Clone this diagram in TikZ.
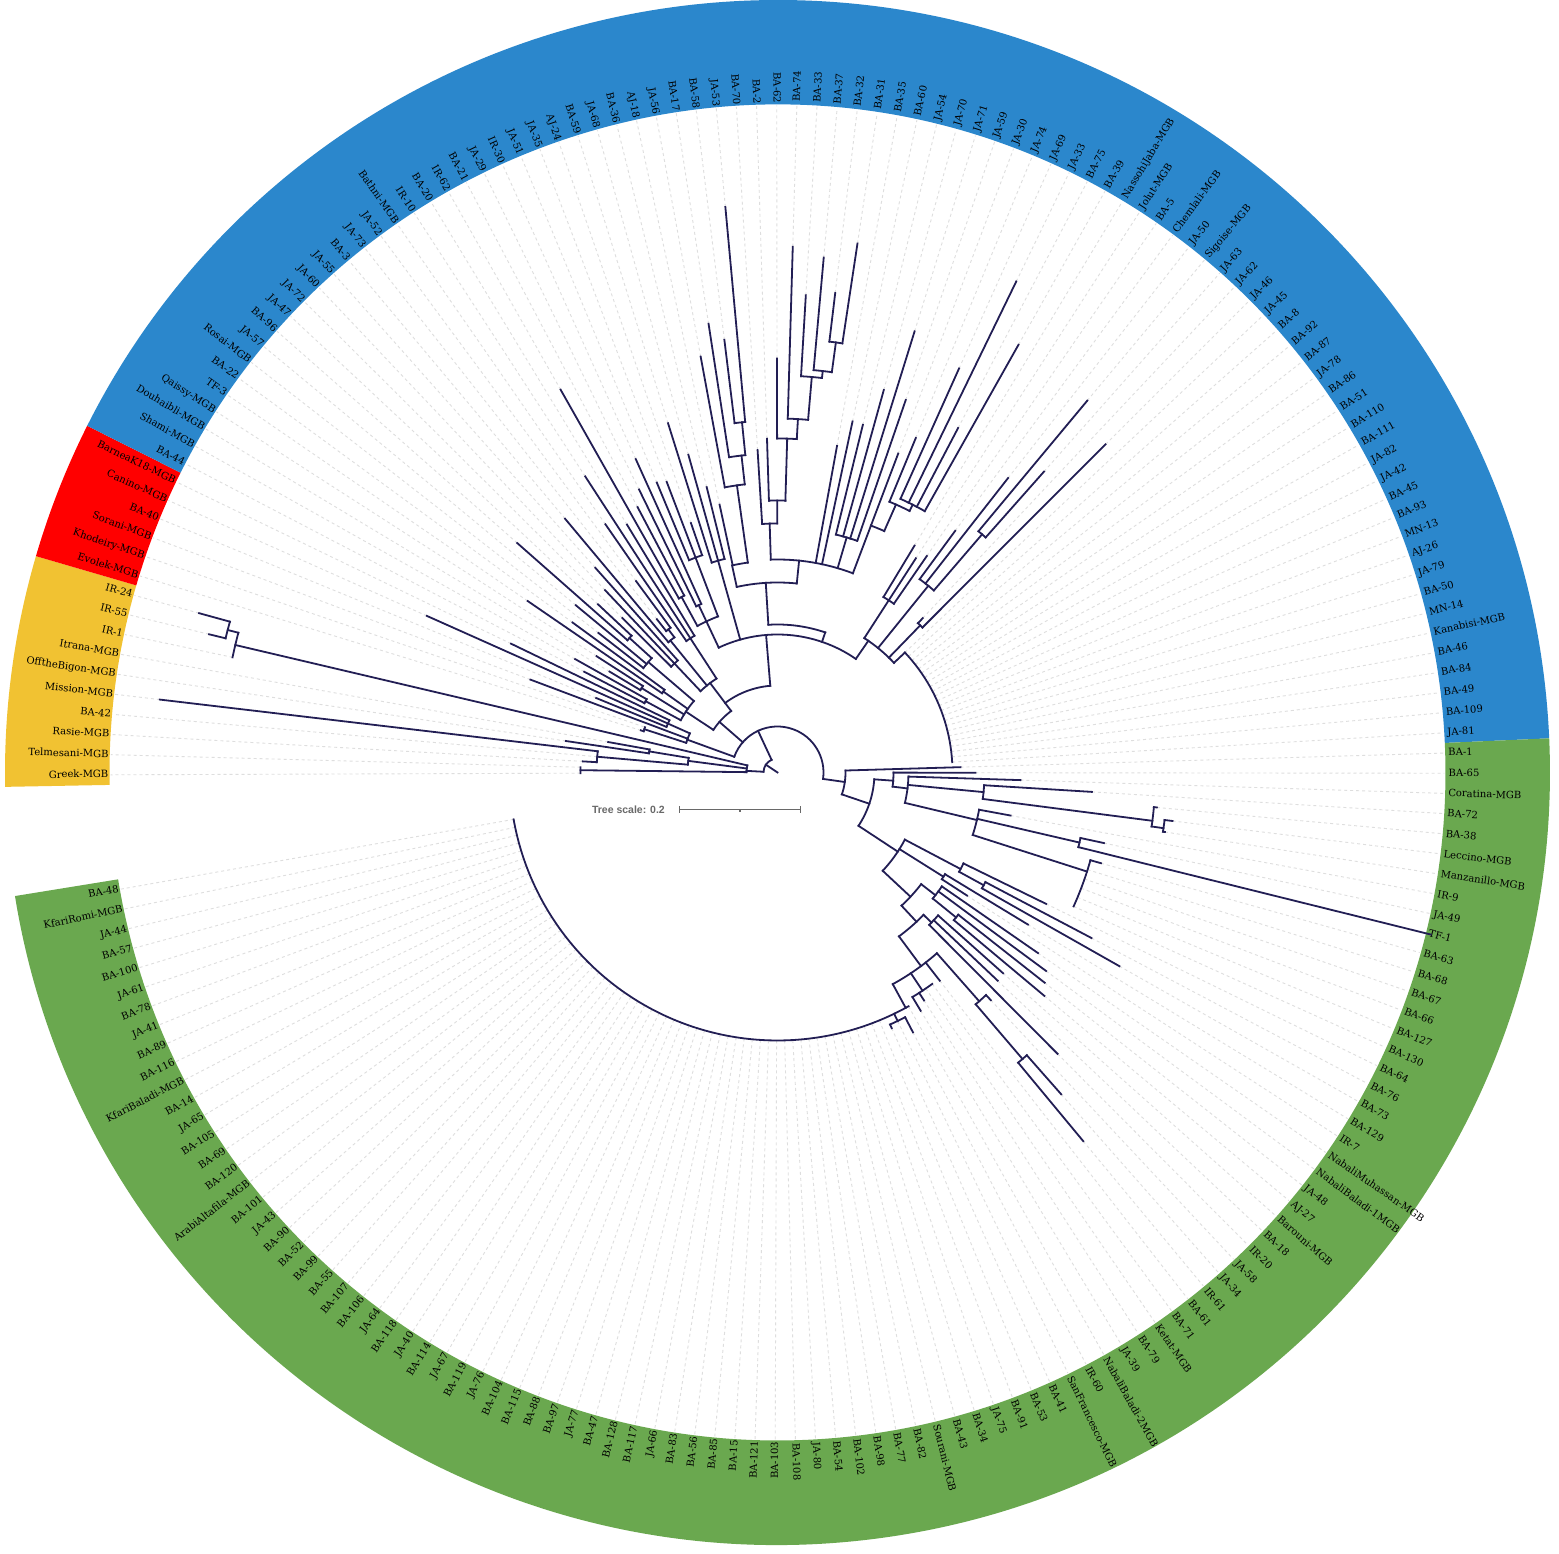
\documentclass[tikz,border=0pt]{standalone}
\usepackage{fontspec}
\newfontfamily\labfont{DejaVu Serif}
\newfontfamily\scfont{Liberation Sans}
\definecolor{trc}{RGB}{34,30,84}
\definecolor{cblue}{RGB}{43,135,204}
\definecolor{cgreen}{RGB}{106,168,79}
\definecolor{cyellow}{RGB}{241,194,50}
\definecolor{cred}{RGB}{255,0,0}
\definecolor{dshc}{RGB}{222,222,222}
\definecolor{scc}{RGB}{105,105,105}
\newcommand\LA[1]{180.2-1.7333*(#1)}
\newcommand\brL[3]{\draw[tr] ({\LA{#1}}:#2pt) -- ({\LA{#1}}:#3pt);}
\newcommand\brA[3]{\draw[tr] ({\LA{#2}}:#1pt) arc[start angle={\LA{#2}}, end angle={\LA{#3}}, radius=#1pt];}
\newcommand\dl[2]{\draw[dshline] ({\LA{#1}}:#2pt) -- ({\LA{#1}}:667pt);}
\newcommand\sect[3]{\fill[#1] ({\LA{#2}}:668pt) arc[start angle={\LA{#2}},end angle={\LA{#3}},radius=668pt] -- ({\LA{#3}}:772.5pt) arc[start angle={\LA{#3}},end angle={\LA{#2}},radius=772.5pt] -- cycle;}
\tikzset{
  tr/.style={draw=trc, line width=1.8pt, line cap=rect},
  dshline/.style={draw=dshc, line width=0.9pt, dash pattern=on 3pt off 3pt},
  lab/.style={font=\labfont\fontsize{10}{12}\selectfont, inner sep=0pt, text=black, text height=7pt, text depth=1pt},
}
\begin{document}
\begin{tikzpicture}
\useasboundingbox (-777.5pt,-781.5pt) rectangle (781.5pt,772.5pt);
\fill[white] (-777.5pt,-781.5pt) rectangle (781.5pt,772.5pt);
% ring
\sect{cyellow}{-0.5}{9.5}
\sect{cred}{9.5}{15.5}
\sect{cblue}{15.5}{102.5}
\sect{cgreen}{102.5}{202.5}
% dashed leaf extensions
\foreach \i/\t in {0/197,1/197,2/195,3/181,4/622,5/214,6/172,7/557,8/585,9/600,
 10/143,11/141,12/264,13/196,14/384,15/296,16/218,17/232,18/196,19/215,20/303,21/254,22/227,23/262,24/347,25/246,
 26/219,27/251,28/274,29/331,30/195,31/238,32/302,33/353,34/290,35/440,36/300,37/315,38/344,39/314,40/311,41/264,42/366,43/330,44/294,
 45/274,46/423,47/454,48/436,49/568,50/323,51/334,52/414,53/526,54/478,55/517,56/483,57/535,
 58/332,59/359,60/358,61/397,62/462,63/394,64/341,65/362,66/443,67/546,68/389,69/491,
 70/265,71/255,72/263,73/300,74/374,75/484,76/402,77/212,78/464,
 103/183,104/198,105/243,106/315,107/381,108/398,109/392,110/237,111/334,113/336,
 119/299,120/355,121/393,122/293,123/226,124/317,125/334,126/340,127/348,128/302,129/303,130/397,
 131/312,132/429,133/479,134/264,135/262,136/262,137/271,138/278,139/268,140/293,141/276,142/280}{\dl{\i}{\t}}
\foreach \i in {79,...,102}{\dl{\i}{175}}
\foreach \i in {114,...,118}{\dl{\i}{325}}
\foreach \i in {143,...,202}{\dl{\i}{268}}
% labels
\foreach \i/\n in {0/Greek-MGB,1/Telmesani-MGB,2/Rasie-MGB,3/BA-42,4/Mission-MGB,5/OfftheBigon-MGB,6/Itrana-MGB,7/IR-1,8/IR-55,9/IR-24,
 10/Evolek-MGB,11/Khodeiry-MGB,12/Sorani-MGB,13/BA-40,14/Canino-MGB,15/BarneaK18-MGB,
 16/BA-44,17/Shami-MGB,18/Douhaibli-MGB,19/Qaissy-MGB,20/TF-3,21/BA-22,22/Rosai-MGB,23/JA-57,24/BA-96,25/JA-47,
 26/JA-72,27/JA-60,28/JA-55,29/BA-3,30/JA-73,31/JA-52,32/Bathni-MGB,33/IR-10,34/BA-20,35/IR-62,
 36/BA-21,37/JA-29,38/IR-30,39/JA-51,40/JA-35,41/AJ-24,42/BA-59,43/JA-68,44/BA-36,45/AJ-18,
 46/JA-56,47/BA-17,48/BA-58,49/JA-53,50/BA-70,51/BA-2,52/BA-62,53/BA-74,54/BA-33,55/BA-37,
 56/BA-32,57/BA-31,58/BA-35,59/BA-60,60/JA-54,61/JA-70,62/JA-71,63/JA-59,64/JA-30,65/JA-74,
 66/JA-69,67/JA-33,68/BA-75,69/BA-39,70/NassohiJaba-MGB,71/Jolut-MGB,72/BA-5,73/Chemlali-MGB,74/JA-50,75/Sigoise-MGB,
 76/JA-63,77/JA-62,78/JA-46,79/JA-45,80/BA-8,81/BA-92,82/BA-87,83/JA-78,84/BA-86,85/BA-51,
 86/BA-110,87/BA-111,88/JA-82,89/JA-42,90/BA-45,91/BA-93,92/MN-13,93/AJ-26,94/JA-79,95/BA-50,
 96/MN-14,97/Kanabisi-MGB,98/BA-46,99/BA-84,100/BA-49,101/BA-109,102/JA-81,
 103/BA-1,104/BA-65,105/Coratina-MGB,106/BA-72,107/BA-38,108/Leccino-MGB,109/Manzanillo-MGB,110/IR-9,111/JA-49,112/TF-1,
 113/BA-63,114/BA-68,115/BA-67,116/BA-66,117/BA-127,118/BA-130,119/BA-64,120/BA-76,121/BA-73,122/BA-129,
 123/IR-7,124/NabaliMuhassan-MGB,125/NabaliBaladi-1MGB,126/JA-48,127/AJ-27,128/Barouni-MGB,129/BA-18,130/IR-20,131/JA-58,132/JA-34,
 133/IR-61,134/BA-61,135/BA-71,136/Ketat-MGB,137/BA-79,138/JA-39,139/NabaliBaladi-2MGB,140/IR-60,141/SanFrancesco-MGB,142/BA-41,
 143/BA-53,144/BA-91,145/JA-75,146/BA-34,147/BA-43,148/Sourani-MGB,149/BA-82,150/BA-77,151/BA-98,152/BA-102,
 153/BA-54,154/JA-80,155/BA-108,156/BA-103,157/BA-121,158/BA-15,159/BA-85,160/BA-56,161/BA-83,162/JA-66,
 163/BA-117,164/BA-128,165/BA-47,166/JA-77,167/BA-97,168/BA-88,169/BA-115,170/BA-104,171/JA-76,172/BA-119,
 173/JA-67,174/BA-114,175/JA-40,176/BA-118,177/JA-64,178/BA-106,179/BA-107,180/BA-55,181/BA-99,182/BA-52,
 183/BA-90,184/JA-43,185/BA-101,186/ArabiAltafila-MGB,187/BA-120,188/BA-69,189/BA-105,190/JA-65,191/BA-14,192/KfariBaladi-MGB,
 193/BA-116,194/BA-89,195/JA-41,196/BA-78,197/JA-61,198/BA-100,199/BA-57,200/JA-44,201/KfariRomi-MGB,202/BA-48}{%
  \pgfmathsetmacro\lang{180.2-1.7333*\i}%
  \ifnum\i>52\relax
    \ifnum\i<156\relax
      \node[lab,anchor=west,rotate=\lang] (l\i) at (\lang:671pt) {\n};
    \else
      \node[lab,anchor=east,rotate=\lang+180] (l\i) at (\lang:669pt) {\n};
    \fi
  \else
    \node[lab,anchor=east,rotate=\lang+180] (l\i) at (\lang:669pt) {\n};
  \fi
}
% ===== tree =====
% core
\brL{19.7}{0}{14}
\brA{14}{1.85}{37.6}
\brL{37.6}{14}{46}
\brL{1.85}{14}{31}
\brA{46}{11.65}{108.6}
% yellow
\brA{31}{0.5}{7.75}
\brL{0.5}{31}{197}\brA{197}{0}{1}
\brL{4.4}{31}{90}\brA{90}{3}{5.5}
\brL{3}{90}{181}\brA{181}{2}{4}\brL{2}{181}{195}\brL{4}{181}{622}
\brL{5.5}{90}{130}\brA{130}{5}{6}\brL{5}{130}{214}\brL{6}{130}{172}
\brL{7.75}{31}{557}\brA{557}{7}{8.5}\brL{8.5}{557}{568}\brA{568}{8}{9}\brL{8}{568}{585}\brL{9}{568}{600}
% red
\brL{11.65}{46}{96}\brA{96}{10.5}{14}
\brL{10.5}{96}{140}\brA{140}{10}{11}\brL{10}{140}{143}
\brL{12}{96}{264}
\brL{14}{96}{120}\brA{120}{13}{15}\brL{13}{120}{196}\brL{14}{120}{384}\brL{15}{120}{296}
% U and left blue
\brL{23.8}{46}{77}\brA{77}{19.5}{30.7}
\brL{19.5}{77}{110}\brA{110}{16.5}{23.5}
\brL{16.5}{110}{150}\brA{150}{16}{17}\brL{16}{150}{218}\brL{17}{150}{232}
\brL{18.5}{110}{160}\brA{160}{18}{19}\brL{18}{160}{196}\brL{19}{160}{215}
\brL{20.5}{110}{140}\brA{140}{20}{21}\brL{20}{140}{303}\brL{21}{140}{254}
\brL{23.5}{110}{170}\brA{170}{22}{24.5}\brL{22}{170}{227}\brL{23}{170}{262}
\brL{24.5}{170}{200}\brA{200}{24}{25}\brL{24}{200}{347}\brL{25}{200}{246}
% V
\brL{30.7}{77}{112}\brA{87}{30.7}{49.3}
\brA{112}{27}{33}
\brL{27}{112}{150}\brA{150}{26}{28}\brL{26}{150}{219}\brL{27}{150}{251}\brL{28}{150}{274}
\brL{29.5}{112}{170}\brA{170}{29}{30.5}\brL{29}{170}{331}\brL{30.5}{170}{180}\brA{180}{30}{31}\brL{30}{180}{195}\brL{31}{180}{238}
\brL{33}{112}{160}\brA{160}{32}{34}\brL{32}{160}{302}\brL{33}{160}{353}\brL{34}{160}{290}
% N_A (long lower arc)
\brL{49.3}{87}{138}\brA{138}{37.5}{72}
\brL{37.5}{138}{167}\brA{167}{35.5}{40}
\brL{35.5}{167}{200}\brA{200}{35}{36}\brL{35}{200}{440}\brL{36}{200}{300}
\brL{37.5}{167}{185}\brA{185}{37}{38}\brL{37}{185}{315}\brL{38}{185}{344}
\brL{40}{167}{230}\brA{230}{39}{41}\brL{39}{230}{314}\brL{40}{230}{311}\brL{41}{230}{264}
\brL{43}{138}{220}\brA{220}{42}{44}\brL{42}{220}{366}\brL{43}{220}{330}\brL{44}{220}{294}
% N_B (upper short arc) and N_C
\brL{62.9}{138}{148}\brA{148}{50}{62.9}
\brL{50}{148}{190}
\brA{190}{44.9}{55.4}
\brL{44.9}{190}{212}\brA{212}{45}{47.4}\brL{45}{212}{274}
\brL{47.4}{212}{290}\brA{290}{46}{48.3}\brL{46}{290}{423}
\brL{48.3}{290}{319}\brA{319}{47}{48.7}\brL{47}{319}{454}
\brL{48.7}{319}{352}\brA{352}{48}{49}\brL{48}{352}{436}\brL{49}{352}{568}
% M node on right end of N_C
\brL{55.4}{190}{213}\brA{213}{51}{64}
\brL{51}{213}{249}\brA{249}{50}{52}\brL{50}{249}{323}
\brL{52}{249}{272}\brA{272}{51}{53}\brL{51}{272}{334}
\brL{53}{272}{334}\brA{334}{52}{53.95}\brL{52}{334}{414}
\brL{53.95}{334}{354}\brA{354}{53}{54.9}\brL{53}{354}{526}
\brL{54.9}{354}{397}\brA{397}{54}{55.75}\brL{54}{397}{478}
\brL{55.75}{397}{404}\brA{404}{55}{56.5}\brL{55}{404}{517}
\brL{56.5}{404}{434}\brA{434}{56}{57}\brL{56}{434}{483}\brL{57}{434}{535}
% RF1 on M arc
\brL{58}{213}{332}\brL{59}{213}{359}
\brL{61.5}{213}{245}\brA{245}{60}{63}\brL{60}{245}{358}\brL{61}{245}{397}\brL{62}{245}{462}\brL{63}{245}{394}
\brL{64}{213}{264}\brA{264}{64}{65.8}\brL{64}{264}{341}
\brL{65.8}{264}{293}\brA{293}{65}{67.5}\brL{65}{293}{362}
\brL{67.5}{293}{300}\brA{300}{66}{69}\brL{66}{300}{443}\brL{67}{300}{546}\brL{68}{300}{389}\brL{69}{300}{491}
% RF2 and right arc
\brL{72}{138}{160}\brA{160}{71}{79}
\brL{71}{160}{205}\brA{205}{70}{72}\brL{70}{205}{265}\brL{71}{205}{255}\brL{72}{205}{263}
\brL{74.5}{160}{240}\brA{240}{73}{75.5}\brL{73}{240}{300}\brL{74}{240}{374}
\brL{75.5}{240}{314}\brA{314}{75}{76}\brL{75}{314}{484}\brL{76}{314}{402}
\brL{77.5}{160}{205}\brA{205}{77}{78}\brL{77}{205}{212}\brL{78}{205}{464}
\brL{79}{160}{175}\brA{175}{79}{102}
% green right
\brL{108.6}{46}{68}\brA{68}{103}{114.8}
\brL{103}{68}{183}
\brL{114.8}{68}{97}\brA{97}{106.3}{123.2}
\brL{106.3}{97}{116}\brA{116}{104}{108}\brL{104}{116}{198}
\brL{108}{116}{131}\brA{131}{105}{111.7}\brL{105}{131}{243}
\brL{107.1}{131}{207}\brA{207}{106}{108.2}\brL{106}{207}{315}
\brL{108.2}{207}{378}\brA{378}{107}{108.7}\brL{107}{378}{381}
\brL{108.7}{378}{390}\brA{390}{108}{109}\brL{108}{390}{398}\brL{109}{390}{392}
\brL{111.7}{131}{205}\brA{205}{110}{114.2}\brL{110}{205}{237}
\brL{111.5}{205}{310}\brA{310}{111}{112}\brL{111}{310}{334}\brL{112}{310}{673}
\brL{114.2}{205}{325}\brA{325}{113}{118}\brL{113}{325}{336}
% green lower right
\brL{123.2}{97}{144}\brA{144}{120}{128.8}
\brL{120}{144}{207}\brA{207}{119}{120.5}\brL{119}{207}{299}
\brL{120.5}{207}{235}\brA{235}{120}{121}\brL{120}{235}{355}\brL{121}{235}{393}
\brL{122.5}{144}{196}\brA{196}{122}{123}\brL{122}{196}{293}\brL{123}{196}{226}
\brL{128.8}{144}{182}\brA{182}{125.8}{131.1}
\brL{125.8}{182}{200}\brA{200}{124}{126.5}\brL{124}{200}{317}\brL{125}{200}{334}
\brL{126.5}{200}{230}\brA{230}{126}{127}\brL{126}{230}{340}\brL{127}{230}{348}
\brL{131.1}{182}{204}\brA{204}{129.5}{134.8}
\brL{129.5}{204}{215}\brA{215}{128}{130}\brL{128}{215}{302}\brL{129}{215}{303}\brL{130}{215}{397}
\brL{134.8}{204}{241}\brA{241}{132}{139.4}
\brL{132}{241}{305}\brA{305}{131}{132.5}\brL{131}{305}{312}
\brL{132.5}{305}{377}\brA{377}{132}{133}\brL{132}{377}{429}\brL{133}{377}{479}
\brL{134}{241}{264}
\brL{136.5}{241}{262}\brA{262}{135}{138}\brL{137}{262}{271}\brL{138}{262}{278}
\brL{139.4}{241}{268}\brA{268}{139}{202}
\brL{141}{268}{276}\brA{276}{140}{142}\brL{140}{276}{293}\brL{142}{276}{280}
% scale
\node[font=\scfont\bfseries\fontsize{10.5}{12}\selectfont, text=scc, anchor=east, inner sep=0pt] (ts) at (-112.5pt,-36.8pt) {Tree scale: 0.2};
\coordinate (sa) at (-98.2pt,-36.8pt);
\coordinate (sb) at (23.2pt,-36.8pt);
\draw[scc, line width=1.4pt] (sa) -- (sb);
\draw[scc, line width=1.4pt] ([yshift=-3.5pt]sa) -- ([yshift=3.5pt]sa);
\draw[scc, line width=1.4pt] ([yshift=-3.5pt]sb) -- ([yshift=3.5pt]sb);
\draw[scc, line width=1.2pt] (-37.5pt,-36.8pt) -- (-37.5pt,-39.3pt);
\end{tikzpicture}
\end{document}
